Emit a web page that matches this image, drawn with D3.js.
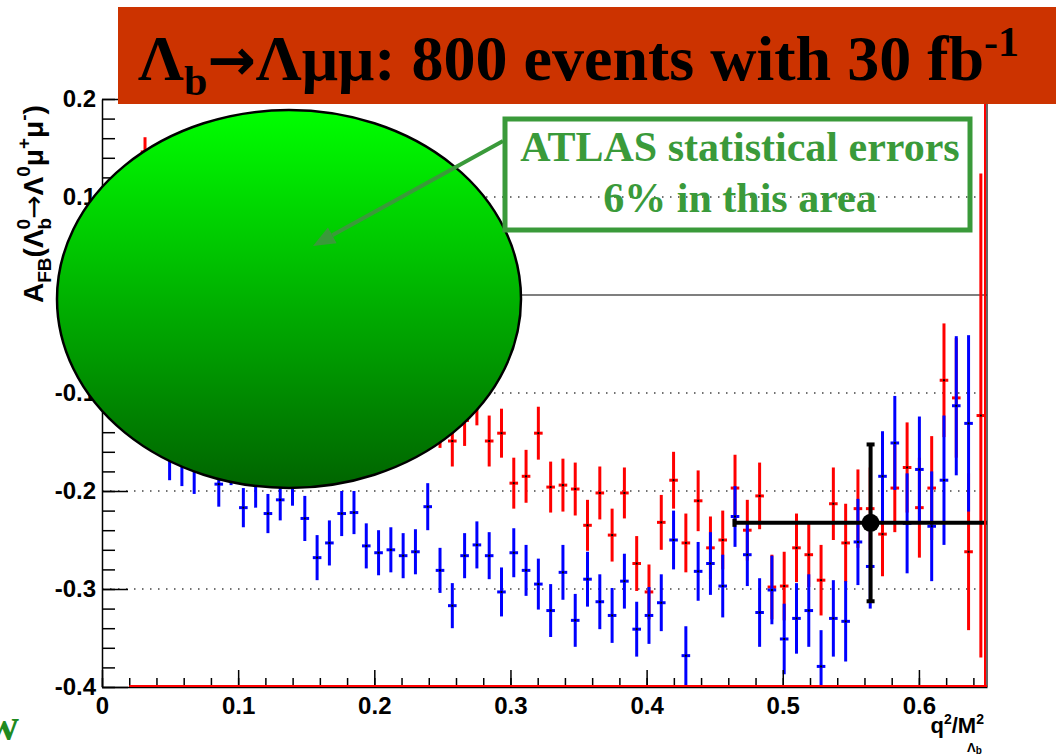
<!DOCTYPE html>
<html>
<head>
<meta charset="utf-8">
<script src="https://cdn.jsdelivr.net/npm/d3@7"></script>
<style>
  body { margin: 0; background: #fff; }
  svg { display: block; }
</style>
</head>
<body>
<svg id="chart" width="1056" height="755"></svg>
<script>
// histogram binning: 72 bins in q2/M2 from 0 to 0.65, first filled bin is 3
var qMin = 0, qMax = 0.65, nBins = 72, firstBin = 3;

// red histogram (bins 3..71)
var redValues = [0.146, 0.120, 0.118, 0.090, 0.085, 0.062, 0.050, 0.041, 0.020, 0.012,
  -0.005, -0.015, -0.030, -0.042, -0.050, -0.068, -0.075, -0.090, -0.098, -0.104,
  -0.112, -0.118, -0.125, -0.128, -0.133, -0.149, -0.128, -0.107, -0.149, -0.141,
  -0.192, -0.185, -0.141, -0.196, -0.194, -0.198, -0.235, -0.202, -0.245, -0.202,
  -0.274, -0.303, -0.232, -0.189, -0.253, -0.210, -0.258, -0.250, -0.197, -0.240,
  -0.205, -0.298, -0.297, -0.258, -0.265, -0.291, -0.213, -0.253, -0.218, -0.218,
  -0.244, -0.197, -0.176, -0.217, -0.197, -0.087, -0.105, -0.262, -0.123];
var redErrors = [0.015, 0.024, 0.024, 0.024, 0.024, 0.024, 0.024, 0.024, 0.024, 0.024,
  0.024, 0.024, 0.024, 0.024, 0.024, 0.024, 0.024, 0.024, 0.024, 0.024,
  0.024, 0.024, 0.024, 0.024, 0.023, 0.026, 0.026, 0.026, 0.026, 0.025,
  0.026, 0.027, 0.027, 0.026, 0.027, 0.027, 0.026, 0.027, 0.027, 0.026,
  0.028, 0.028, 0.028, 0.029, 0.030, 0.031, 0.032, 0.030, 0.034, 0.031,
  0.034, 0.033, 0.035, 0.035, 0.033, 0.036, 0.037, 0.040, 0.040, 0.042,
  0.043, 0.045, 0.046, 0.051, 0.053, 0.058, 0.061, 0.080, 0.247];

// blue histogram (bins 3..70)
var blueValues = [-0.110, -0.130, -0.163, -0.170, -0.177, -0.158, -0.193, -0.168, -0.217, -0.191,
  -0.223, -0.209, -0.189, -0.228, -0.268, -0.253, -0.223, -0.222, -0.256, -0.263,
  -0.260, -0.266, -0.262, -0.216, -0.281, -0.317, -0.266, -0.255, -0.266, -0.303,
  -0.263, -0.281, -0.295, -0.322, -0.283, -0.332, -0.290, -0.313, -0.327, -0.292,
  -0.341, -0.327, -0.314, -0.250, -0.368, -0.282, -0.274, -0.297, -0.226, -0.265,
  -0.324, -0.301, -0.351, -0.330, -0.322, -0.379, -0.330, -0.333, -0.252, -0.277,
  -0.185, -0.151, -0.233, -0.178, -0.236, -0.189, -0.113, -0.131];
var blueErrors = [0.026, 0.025, 0.026, 0.025, 0.026, 0.025, 0.023, 0.026, 0.020, 0.026,
  0.020, 0.021, 0.026, 0.023, 0.023, 0.023, 0.023, 0.022, 0.023, 0.023,
  0.023, 0.023, 0.023, 0.024, 0.023, 0.023, 0.023, 0.024, 0.024, 0.025,
  0.025, 0.026, 0.026, 0.027, 0.028, 0.027, 0.028, 0.028, 0.028, 0.028,
  0.028, 0.029, 0.029, 0.030, 0.030, 0.030, 0.032, 0.032, 0.031, 0.032,
  0.035, 0.035, 0.036, 0.036, 0.037, 0.037, 0.039, 0.041, 0.044, 0.043,
  0.046, 0.048, 0.051, 0.054, 0.056, 0.066, 0.071, 0.090];

// the single ATLAS point (black)
var atlasPoint = { q: 0.5645, a: -0.2325, qErr: 0.1, aErr: 0.08 };

var xTicks = [0, 0.1, 0.2, 0.3, 0.4, 0.5, 0.6];
var yTicks = [-0.4, -0.3, -0.2, -0.1, 0, 0.1, 0.2];
var yGrid = [-0.3, -0.2, -0.1, 0.1];

var noteLines = ["ATLAS statistical errors", "6% in this area"];

var fL = 102, fR = 987, fT = 99, fB = 687;
var svg = d3.select("#chart");

var x = d3.scaleLinear().domain([qMin, qMax]).range([fL, fR]);
var y = d3.scaleLinear().domain([-0.4, 0.2]).range([fB, fT]);
var binW = (qMax - qMin) / nBins;

function fmt(d) { return d === 0 ? "0" : d.toFixed(1); }

var defs = svg.append("defs");
defs.append("clipPath").attr("id", "frame")
  .append("rect").attr("x", fL).attr("y", fT)
  .attr("width", fR - fL).attr("height", fB - fT);

var grad = defs.append("linearGradient")
  .attr("id", "blob").attr("x1", 0).attr("y1", 0).attr("x2", 0).attr("y2", 1);
grad.append("stop").attr("offset", "0%").attr("stop-color", "#00ff00");
grad.append("stop").attr("offset", "100%").attr("stop-color", "#006400");

// dotted grid + solid zero line
svg.append("g").selectAll("line").data(yGrid).enter().append("line")
  .attr("x1", fL).attr("x2", fR - 10)
  .attr("y1", function (d) { return y(d); }).attr("y2", function (d) { return y(d); })
  .attr("stroke", "#444").attr("stroke-width", 1.3).attr("stroke-dasharray", "1.5 6.5");
svg.append("line")
  .attr("x1", fL).attr("x2", fR).attr("y1", y(0)).attr("y2", y(0))
  .attr("stroke", "#555").attr("stroke-width", 1.3);

var plot = svg.append("g").attr("clip-path", "url(#frame)");

function series(values, errors) {
  return values.map(function (v, i) {
    var k = firstBin + i;
    return { q: qMin + (k + 0.5) * binW, v: v, e: errors[i] };
  });
}

function drawSeries(data, color) {
  var g = plot.append("g");
  g.selectAll(".ev").data(data).enter().append("line")
    .attr("x1", function (d) { return x(d.q); }).attr("x2", function (d) { return x(d.q); })
    .attr("y1", function (d) { return y(d.v - d.e); }).attr("y2", function (d) { return y(d.v + d.e); })
    .attr("stroke", color).attr("stroke-width", 3);
  g.selectAll(".eh").data(data).enter().append("line")
    .attr("x1", function (d) { return x(d.q - binW * 0.35); })
    .attr("x2", function (d) { return x(d.q + binW * 0.35); })
    .attr("y1", function (d) { return y(d.v); }).attr("y2", function (d) { return y(d.v); })
    .attr("stroke", color).attr("stroke-width", 3);
  g.selectAll(".dot").data(data).enter().append("rect")
    .attr("x", function (d) { return x(d.q) - 1; }).attr("y", function (d) { return y(d.v) - 1; })
    .attr("width", 2).attr("height", 2).attr("fill", "#000");
}

drawSeries(series(redValues, redErrors), "#ff0000");
drawSeries(series(blueValues, blueErrors), "#0000ff");

// black point with its errors
var bp = plot.append("g").attr("stroke", "#000").attr("stroke-width", 4);
bp.append("line")
  .attr("x1", x(atlasPoint.q - atlasPoint.qErr)).attr("x2", x(atlasPoint.q + atlasPoint.qErr))
  .attr("y1", y(atlasPoint.a)).attr("y2", y(atlasPoint.a));
bp.append("line")
  .attr("x1", x(atlasPoint.q)).attr("x2", x(atlasPoint.q))
  .attr("y1", y(atlasPoint.a - atlasPoint.aErr)).attr("y2", y(atlasPoint.a + atlasPoint.aErr));
bp.append("line")
  .attr("x1", x(atlasPoint.q - atlasPoint.qErr)).attr("x2", x(atlasPoint.q - atlasPoint.qErr))
  .attr("y1", y(atlasPoint.a) - 4).attr("y2", y(atlasPoint.a) + 4);
[atlasPoint.a - atlasPoint.aErr, atlasPoint.a + atlasPoint.aErr].forEach(function (v) {
  bp.append("line")
    .attr("x1", x(atlasPoint.q) - 4).attr("x2", x(atlasPoint.q) + 4)
    .attr("y1", y(v)).attr("y2", y(v));
});
bp.append("circle").attr("cx", x(atlasPoint.q)).attr("cy", y(atlasPoint.a))
  .attr("r", 9).attr("fill", "#000").attr("stroke", "none");

// axes
var axisFont = "'Liberation Sans', Arial, sans-serif";
function styleAxis(g) {
  g.selectAll("path, line").attr("stroke", "#000").attr("stroke-width", 1.5);
  g.selectAll("text").attr("font-family", axisFont).attr("font-weight", "bold")
    .attr("font-size", 24).attr("fill", "#000");
}

svg.append("g").attr("transform", "translate(" + fL + ",0)")
  .call(d3.axisLeft(y).tickValues(d3.range(-0.4, 0.2001, 0.02)).tickSize(-13).tickFormat(""))
  .call(function (g) { g.select(".domain").remove(); })
  .call(styleAxis);
svg.append("g").attr("transform", "translate(" + fL + ",0)")
  .call(d3.axisLeft(y).tickValues(yTicks).tickSize(-26).tickSizeOuter(0).tickPadding(6).tickFormat(fmt))
  .call(styleAxis);

svg.append("g").attr("transform", "translate(0," + fB + ")")
  .call(d3.axisBottom(x).tickValues(d3.range(0, 0.6401, 0.02)).tickSize(-9).tickFormat(""))
  .call(function (g) { g.select(".domain").remove(); })
  .call(styleAxis);
svg.append("g").attr("transform", "translate(0," + fB + ")")
  .call(d3.axisBottom(x).tickValues(xTicks).tickSize(-17).tickSizeOuter(0).tickPadding(10).tickFormat(fmt))
  .call(styleAxis);

// right frame edge and the red histogram outline along bottom/right
svg.append("line").attr("x1", fR - 2).attr("x2", fR - 2).attr("y1", fT).attr("y2", fB)
  .attr("stroke", "#ff0000").attr("stroke-width", 2);
svg.append("line").attr("x1", fR).attr("x2", fR).attr("y1", fT).attr("y2", fB)
  .attr("stroke", "#333").attr("stroke-width", 1.5);
svg.append("line").attr("x1", x(0.02)).attr("x2", fR).attr("y1", fB - 1).attr("y2", fB - 1)
  .attr("stroke", "#ff0000").attr("stroke-width", 2);

// axis titles
var arrowFont = "'DejaVu Sans', sans-serif";
var yt = svg.append("text").attr("transform", "translate(43,303) rotate(-90)")
  .attr("font-family", axisFont).attr("font-weight", "bold").attr("font-size", 28).attr("fill", "#000");
[["A", 28, 0, 0], ["FB", 19, 8, 0], ["(\u039B", 28, -8, 0], ["b", 19, 8, 0], ["0", 19, -21, -11.6],
 ["\u2192", 28, 13, 0], ["\u039B", 28, 0, 0], ["0", 19, -13, 0], ["\u03BC", 28, 13, 0], ["+", 19, -13, 0],
 ["\u03BC", 28, 13, 0], ["-", 19, -13, 0], [")", 28, 13, 0]].forEach(function (p) {
  var t = yt.append("tspan").attr("font-size", p[1]).attr("dy", p[2]).attr("dx", p[3]).text(p[0]);
  if (p[0] === "\u2192") t.attr("font-family", arrowFont).attr("font-weight", "normal");
});

var xt = svg.append("text").attr("x", 984).attr("y", 733).attr("text-anchor", "end")
  .attr("font-family", axisFont).attr("font-weight", "bold").attr("font-size", 22).attr("fill", "#000");
xt.append("tspan").text("q");
xt.append("tspan").attr("font-size", 14).attr("dy", -9).text("2");
xt.append("tspan").attr("dy", 9).text("/M");
xt.append("tspan").attr("font-size", 14).attr("dy", -9).text("2");
var xs = svg.append("text").attr("x", 967).attr("y", 752)
  .attr("font-family", axisFont).attr("font-weight", "bold").attr("font-size", 13).attr("fill", "#000");
xs.append("tspan").text("\u039B");
xs.append("tspan").attr("font-size", 10).attr("dy", 2).text("b");

// title banner
var serif = "'Liberation Serif', 'Times New Roman', serif";
svg.append("rect").attr("x", 118).attr("y", 7).attr("width", 1056 - 118).attr("height", 97)
  .attr("fill", "#cc3300");
var tt = svg.append("text").attr("x", 138).attr("y", 80)
  .attr("font-family", serif).attr("font-weight", "bold").attr("font-size", 64).attr("fill", "#000");
tt.append("tspan").text("\u039B");
tt.append("tspan").attr("font-size", 42).attr("dy", 15).text("b");
tt.append("tspan").attr("dy", -15).attr("font-family", arrowFont).attr("font-size", 58).text("\u2192");
tt.append("tspan").text("\u039B\u03BC\u03BC: 800 events with 30 fb");
tt.append("tspan").attr("font-size", 42).attr("dy", -24).text("-1");

// green blob covering the low-q2 region
svg.append("ellipse").attr("cx", 289).attr("cy", 299).attr("rx", 232).attr("ry", 189)
  .attr("fill", "url(#blob)").attr("stroke", "#000").attr("stroke-width", 2.5);

// annotation box and arrow
var green = "#3a9a3a";
svg.append("rect").attr("x", 505).attr("y", 119).attr("width", 465).attr("height", 111)
  .attr("fill", "none").attr("stroke", green).attr("stroke-width", 5);
svg.append("g").selectAll("text").data(noteLines).enter().append("text")
  .attr("x", 740).attr("y", function (d, i) { return 161 + i * 51; })
  .attr("text-anchor", "middle").attr("font-family", serif).attr("font-weight", "bold")
  .attr("font-size", 42).attr("fill", green).text(function (d) { return d; });

var a0 = [503, 141], a1 = [313, 246];
var adx = a1[0] - a0[0], ady = a1[1] - a0[1], alen = Math.sqrt(adx * adx + ady * ady);
var ux = adx / alen, uy = ady / alen, hl = 22, hw = 9;
var base = [a1[0] - ux * hl, a1[1] - uy * hl];
svg.append("line").attr("x1", a0[0]).attr("y1", a0[1]).attr("x2", base[0]).attr("y2", base[1])
  .attr("stroke", green).attr("stroke-width", 4);
svg.append("path")
  .attr("d", "M" + a1[0] + "," + a1[1] +
    "L" + (base[0] - uy * hw) + "," + (base[1] + ux * hw) +
    "L" + (base[0] + uy * hw) + "," + (base[1] - ux * hw) + "Z")
  .attr("fill", green);

// cut-off text at lower left
svg.append("text").attr("x", 19).attr("y", 740).attr("text-anchor", "end")
  .attr("font-family", serif).attr("font-weight", "bold").attr("font-size", 46)
  .attr("fill", "#1f8a1f").text("w");
</script>
</body>
</html>
